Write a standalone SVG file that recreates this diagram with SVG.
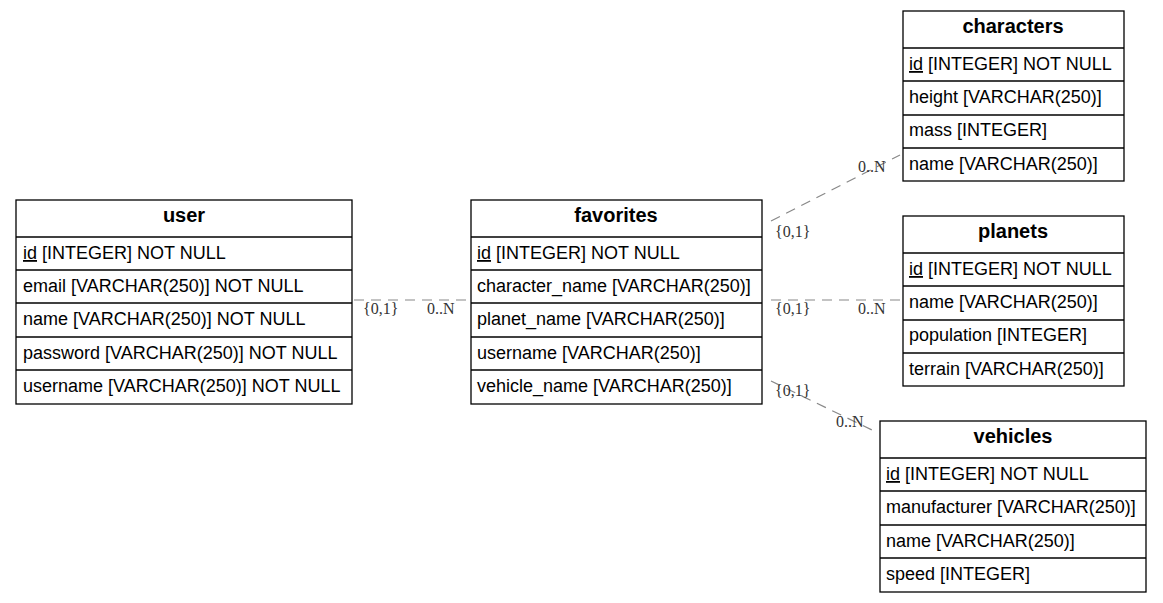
<svg xmlns="http://www.w3.org/2000/svg" width="1163" height="603" viewBox="0 0 1163 603">
<style>
.box{fill:#fff;stroke:#000;stroke-width:1.3}
.sep{stroke:#000;stroke-width:1.3}
.h{font-family:"Liberation Sans",Arial,sans-serif;font-weight:bold;font-size:20px;text-anchor:middle;fill:#000}
.r{font-family:"Liberation Sans",Arial,sans-serif;font-size:18px;fill:#000}
.u{text-decoration:underline}
.e{stroke:#888;stroke-width:1.2;stroke-dasharray:10,7;fill:none}
.l{font-family:"Liberation Serif","Times New Roman",serif;font-size:16px;fill:#333}
</style>
<rect width="1163" height="603" fill="#fff"/>
<g id="connectors">
<line class="e" x1="354" y1="300" x2="470" y2="300"/>
<line class="e" x1="771" y1="221" x2="900" y2="155"/>
<line class="e" x1="771" y1="300" x2="900" y2="300"/>
<line class="e" x1="771" y1="381" x2="872" y2="430"/>
<text class="l" x="363" y="314">{0,1}</text>
<text class="l" x="427" y="314">0..N</text>
<text class="l" x="775" y="237">{0,1}</text>
<text class="l" x="858" y="172">0..N</text>
<text class="l" x="775" y="314">{0,1}</text>
<text class="l" x="858" y="314">0..N</text>
<text class="l" x="775" y="396">{0,1}</text>
<text class="l" x="836" y="427">0..N</text>
</g>
<g id="user">
<rect class="box" x="16" y="200" width="336" height="204"/>
<line class="sep" x1="16" y1="237" x2="352" y2="237"/>
<line class="sep" x1="16" y1="270" x2="352" y2="270"/>
<line class="sep" x1="16" y1="303" x2="352" y2="303"/>
<line class="sep" x1="16" y1="337" x2="352" y2="337"/>
<line class="sep" x1="16" y1="370" x2="352" y2="370"/>
<text class="h" x="184" y="222">user</text>
<text class="r" x="23" y="259"><tspan class="u">id</tspan> [INTEGER] NOT NULL</text>
<text class="r" x="23" y="292">email [VARCHAR(250)] NOT NULL</text>
<text class="r" x="23" y="325">name [VARCHAR(250)] NOT NULL</text>
<text class="r" x="23" y="359">password [VARCHAR(250)] NOT NULL</text>
<text class="r" x="23" y="392">username [VARCHAR(250)] NOT NULL</text>
</g>
<g id="favorites">
<rect class="box" x="471" y="200" width="291" height="204"/>
<line class="sep" x1="471" y1="237" x2="762" y2="237"/>
<line class="sep" x1="471" y1="270" x2="762" y2="270"/>
<line class="sep" x1="471" y1="303" x2="762" y2="303"/>
<line class="sep" x1="471" y1="337" x2="762" y2="337"/>
<line class="sep" x1="471" y1="370" x2="762" y2="370"/>
<text class="h" x="616" y="222">favorites</text>
<text class="r" x="477" y="259"><tspan class="u">id</tspan> [INTEGER] NOT NULL</text>
<text class="r" x="477" y="292">character_name [VARCHAR(250)]</text>
<text class="r" x="477" y="325">planet_name [VARCHAR(250)]</text>
<text class="r" x="477" y="359">username [VARCHAR(250)]</text>
<text class="r" x="477" y="392">vehicle_name [VARCHAR(250)]</text>
</g>
<g id="characters">
<rect class="box" x="903" y="11" width="221" height="170"/>
<line class="sep" x1="903" y1="48" x2="1124" y2="48"/>
<line class="sep" x1="903" y1="81" x2="1124" y2="81"/>
<line class="sep" x1="903" y1="115" x2="1124" y2="115"/>
<line class="sep" x1="903" y1="148" x2="1124" y2="148"/>
<text class="h" x="1013" y="33">characters</text>
<text class="r" x="909" y="70"><tspan class="u">id</tspan> [INTEGER] NOT NULL</text>
<text class="r" x="909" y="103">height [VARCHAR(250)]</text>
<text class="r" x="909" y="136">mass [INTEGER]</text>
<text class="r" x="909" y="170">name [VARCHAR(250)]</text>
</g>
<g id="planets">
<rect class="box" x="903" y="216" width="221" height="170"/>
<line class="sep" x1="903" y1="253" x2="1124" y2="253"/>
<line class="sep" x1="903" y1="286" x2="1124" y2="286"/>
<line class="sep" x1="903" y1="320" x2="1124" y2="320"/>
<line class="sep" x1="903" y1="353" x2="1124" y2="353"/>
<text class="h" x="1013" y="238">planets</text>
<text class="r" x="909" y="275"><tspan class="u">id</tspan> [INTEGER] NOT NULL</text>
<text class="r" x="909" y="308">name [VARCHAR(250)]</text>
<text class="r" x="909" y="341">population [INTEGER]</text>
<text class="r" x="909" y="375">terrain [VARCHAR(250)]</text>
</g>
<g id="vehicles">
<rect class="box" x="880" y="421" width="266" height="171"/>
<line class="sep" x1="880" y1="458" x2="1146" y2="458"/>
<line class="sep" x1="880" y1="491" x2="1146" y2="491"/>
<line class="sep" x1="880" y1="525" x2="1146" y2="525"/>
<line class="sep" x1="880" y1="558" x2="1146" y2="558"/>
<text class="h" x="1013" y="443">vehicles</text>
<text class="r" x="886" y="480"><tspan class="u">id</tspan> [INTEGER] NOT NULL</text>
<text class="r" x="886" y="513">manufacturer [VARCHAR(250)]</text>
<text class="r" x="886" y="547">name [VARCHAR(250)]</text>
<text class="r" x="886" y="580">speed [INTEGER]</text>
</g>
</svg>
